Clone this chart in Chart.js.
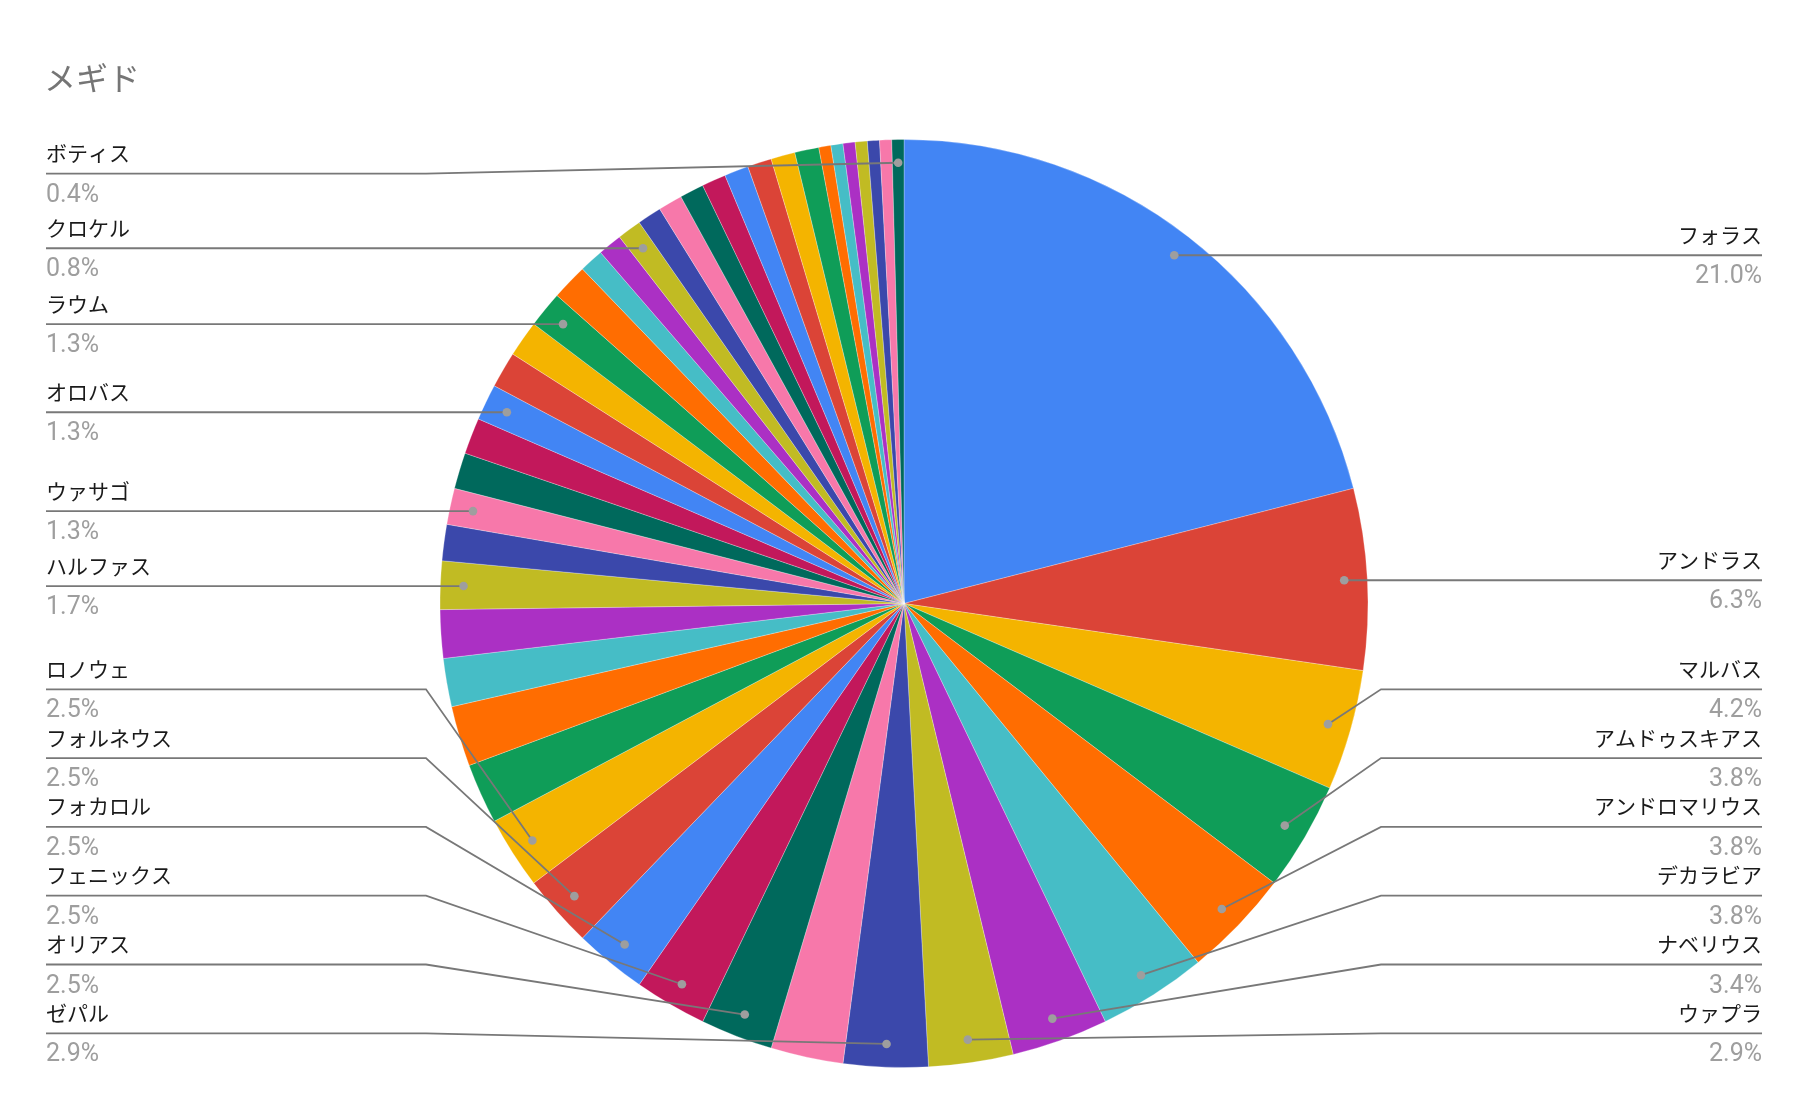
<!DOCTYPE html>
<html><head><meta charset="utf-8">
<script src="https://cdn.jsdelivr.net/npm/chart.js@4.4.1/dist/chart.umd.min.js"></script>
<style>html,body{margin:0;padding:0;background:#fff;}canvas{display:block;}</style>
</head><body>
<canvas id="c" width="1804" height="1119"></canvas>
<script>
const chartTitle = 'メギド';
const names = ['フォラス','アンドラス','マルバス','アムドゥスキアス','アンドロマリウス','デカラビア','ナベリウス','ウァプラ','ゼパル','',
  'オリアス','フェニックス','フォカロル','フォルネウス','ロノウェ','','','','','ハルファス',
  '','ウァサゴ','','','オロバス','','','ラウム','','',
  '','クロケル','','','','','','','','',
  '','','','','','','ボティス'];
const counts = [50,15,10,9,9,9,8,7,7,6,
  6,6,6,6,6,5,5,4,4,4,
  3,3,3,3,3,3,3,3,3,2,
  2,2,2,2,2,2,2,2,2,2,
  1,1,1,1,1,1,1];
const palette = ['#4285F4','#DB4437','#F4B400','#0F9D58','#FF6D01','#46BDC6','#AB30C4','#C1BB23','#3B48AB','#F778AA','#00695C','#C2185B'];

const calloutPlugin = {
  id: 'callouts',
  afterDraw(chart) {
    const ctx = chart.ctx;
    const meta = chart.getDatasetMeta(0);
    const total = counts.reduce((a, b) => a + b, 0);
    const left = [], right = [];
    meta.data.forEach((arc, i) => {
      const p = arc.getProps(['x', 'y', 'startAngle', 'endAngle', 'outerRadius'], true);
      if (!names[i]) return;
      const mid = (p.startAngle + p.endAngle) / 2;
      const r = p.outerRadius * 0.95;
      const item = { i, dx: p.x + Math.cos(mid) * r, dy: p.y + Math.sin(mid) * r,
        pct: (counts[i] / total * 100).toFixed(1) + '%' };
      (item.dx < p.x ? left : right).push(item);
    });
    const minY = 173.7, maxY = 1033.3, gap = 68.8;
    function layout(arr) {
      arr.sort((a, b) => a.dy - b.dy);
      arr.forEach((it, k) => {
        it.ly = Math.min(Math.max(it.dy, minY), maxY);
        if (k > 0) it.ly = Math.max(it.ly, arr[k - 1].ly + gap);
      });
      for (let k = arr.length - 1; k >= 0; k--) {
        const lim = k === arr.length - 1 ? maxY : arr[k + 1].ly - gap;
        arr[k].ly = Math.min(arr[k].ly, lim);
      }
    }
    layout(left); layout(right);
    ctx.save();
    ctx.fillStyle = '#757575';
    ctx.font = '32px "Noto Sans CJK JP"';
    ctx.textAlign = 'left';
    ctx.textBaseline = 'alphabetic';
    ctx.fillText(chartTitle, 44, 90);

    function draw(arr, side) {
      const textX = side === 'L' ? 46 : 1762;
      const elbowX = side === 'L' ? 426 : 1381;
      arr.forEach(it => {
        ctx.strokeStyle = '#787878';
        ctx.lineWidth = 1.8;
        ctx.beginPath();
        ctx.moveTo(textX, it.ly);
        ctx.lineTo(elbowX, it.ly);
        ctx.lineTo(it.dx, it.dy);
        ctx.stroke();
        ctx.fillStyle = '#9e9e9e';
        ctx.beginPath();
        ctx.arc(it.dx, it.dy, 4.3, 0, Math.PI * 2);
        ctx.fill();
        ctx.textAlign = side === 'L' ? 'left' : 'right';
        ctx.fillStyle = '#1a1a1a';
        ctx.font = '21px "Noto Sans CJK JP"';
        ctx.fillText(names[it.i], textX, it.ly - 12.5);
        ctx.fillStyle = '#9e9e9e';
        ctx.font = '25px Roboto';
        ctx.fillText(it.pct, textX, it.ly + 28);
      });
    }
    draw(left, 'L'); draw(right, 'R');
    ctx.restore();
  }
};

new Chart(document.getElementById('c'), {
  type: 'pie',
  data: {
    labels: names,
    datasets: [{
      data: counts,
      backgroundColor: counts.map((_, i) => palette[i % palette.length]),
      borderColor: 'rgba(255,255,255,0.45)',
      borderWidth: 0.6,
      hoverOffset: 0,
      radius: 464
    }]
  },
  options: {
    responsive: false,
    animation: false,
    events: [],
    layout: { padding: { left: 440, right: 436, top: 139.5, bottom: 51.5 } },
    plugins: { legend: { display: false }, tooltip: { enabled: false }, title: { display: false } }
  },
  plugins: [calloutPlugin]
});
</script>
</body></html>
